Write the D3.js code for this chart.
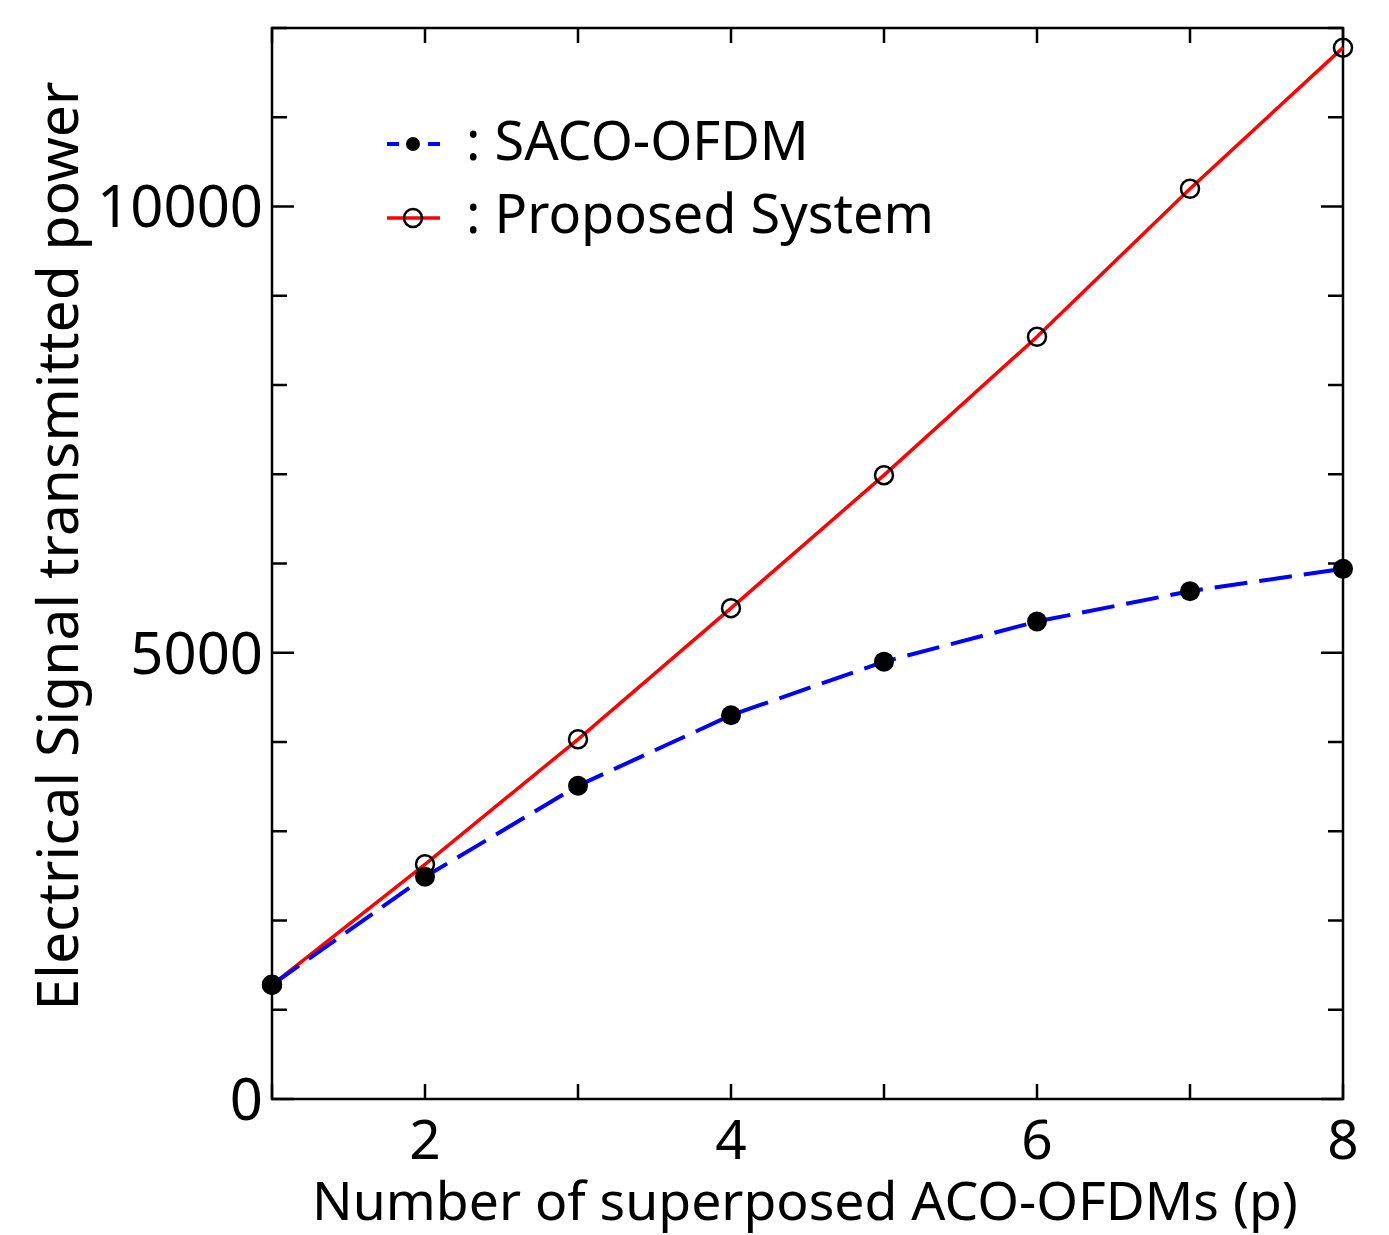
<!DOCTYPE html>
<html>
<head>
<meta charset="utf-8">
<script src="https://cdn.jsdelivr.net/npm/d3@7"></script>
<style>
  body { margin: 0; background: #fff; }
  text { font-family: "Noto Sans", "Open Sans", sans-serif; fill: #000; }
</style>
</head>
<body>
<svg width="1389" height="1235"></svg>
<script>
// data
const pValues = [1, 2, 3, 4, 5, 6, 7, 8]
const sacoPower = [1280, 2490, 3510, 4300, 4900, 5350, 5690, 5940]
const proposedPower = [1280, 2630, 4030, 5500, 6990, 8540, 10200, 11780]
const xTickLabels = [2, 4, 6, 8]
const yTickLabels = [0, 5000, 10000]

const svg = d3.select("svg")
const plotL = 272, plotR = 1343, plotT = 28, plotB = 1099

const x = d3.scaleLinear().domain([1, 8]).range([plotL, plotR])
const y = d3.scaleLinear().domain([0, 12000]).range([plotB, plotT])

// ticks, inward on all four sides
const g = svg.append("g")
d3.range(1, 9).forEach(v => {
  g.append("line").attr("x1", x(v)).attr("x2", x(v)).attr("y1", plotB).attr("y2", plotB - 15)
    .attr("stroke", "#000").attr("stroke-width", 2.5)
  g.append("line").attr("x1", x(v)).attr("x2", x(v)).attr("y1", plotT).attr("y2", plotT + 15)
    .attr("stroke", "#000").attr("stroke-width", 2.5)
})
d3.range(0, 12001, 1000).forEach(v => {
  let len = (v % 5000 === 0) ? 22 : 15
  g.append("line").attr("x1", plotL).attr("x2", plotL + len).attr("y1", y(v)).attr("y2", y(v))
    .attr("stroke", "#000").attr("stroke-width", 2.5)
  g.append("line").attr("x1", plotR).attr("x2", plotR - len).attr("y1", y(v)).attr("y2", y(v))
    .attr("stroke", "#000").attr("stroke-width", 2.5)
})

// frame
svg.append("rect").attr("x", plotL).attr("y", plotT).attr("width", plotR - plotL).attr("height", plotB - plotT)
  .attr("fill", "none").attr("stroke", "#000").attr("stroke-width", 2.5)

// tick labels
svg.selectAll(".xl").data(xTickLabels).enter().append("text")
  .attr("x", d => x(d)).attr("y", 1159)
  .attr("text-anchor", "middle").attr("font-size", 55)
  .text(d => d)
svg.selectAll(".yl").data(yTickLabels).enter().append("text")
  .attr("x", 263).attr("y", d => y(d)).attr("dy", "0.36em")
  .attr("text-anchor", "end").attr("font-size", 58)
  .text(d => d)

// axis titles
svg.append("text").attr("x", 805).attr("y", 1220)
  .attr("text-anchor", "middle").attr("font-size", 53.5)
  .text("Number of superposed ACO-OFDMs (p)")
svg.append("text")
  .attr("transform", "translate(78," + 546 + ") rotate(-90)")
  .attr("text-anchor", "middle").attr("font-size", 57)
  .text("Electrical Signal transmitted power")

// lines
const line = d3.line().x((d, i) => x(pValues[i])).y(d => y(d))
svg.append("path").attr("d", line(proposedPower))
  .attr("fill", "none").attr("stroke", "#ff0000").attr("stroke-width", 3.5)
svg.append("path").attr("d", line(sacoPower))
  .attr("fill", "none").attr("stroke", "#0000ff").attr("stroke-width", 4)
  .attr("stroke-dasharray", "33,12")

// markers
svg.selectAll(".op").data(proposedPower).enter().append("circle")
  .attr("cx", (d, i) => x(pValues[i])).attr("cy", d => y(d)).attr("r", 9)
  .attr("fill", "none").attr("stroke", "#000").attr("stroke-width", 2.5)
svg.selectAll(".fp").data(sacoPower).enter().append("circle")
  .attr("cx", (d, i) => x(pValues[i])).attr("cy", d => y(d)).attr("r", 10)
  .attr("fill", "#000")

// legend
const lg = svg.append("g")
lg.append("line").attr("x1", 387).attr("x2", 440).attr("y1", 144).attr("y2", 144)
  .attr("stroke", "#0000ff").attr("stroke-width", 4).attr("stroke-dasharray", "12,29")
lg.append("circle").attr("cx", 413).attr("cy", 144).attr("r", 7).attr("fill", "#000")
lg.append("text").attr("x", 466).attr("y", 160).attr("font-size", 54)
  .text(": SACO-OFDM")
lg.append("line").attr("x1", 387).attr("x2", 440).attr("y1", 218).attr("y2", 218)
  .attr("stroke", "#ff0000").attr("stroke-width", 3.5)
lg.append("circle").attr("cx", 413).attr("cy", 218).attr("r", 9)
  .attr("fill", "none").attr("stroke", "#000").attr("stroke-width", 2.5)
lg.append("text").attr("x", 466).attr("y", 233).attr("font-size", 54)
  .text(": Proposed System")
</script>
</body>
</html>
